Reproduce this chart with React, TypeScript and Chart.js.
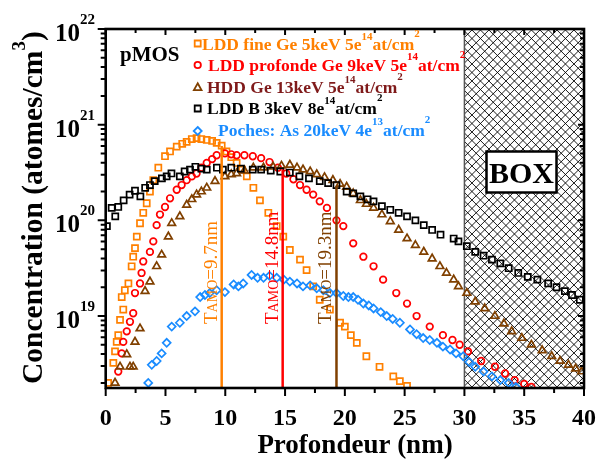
import { useEffect, useRef } from 'react';
import { Chart, registerables } from 'chart.js';

Chart.register(...registerables);

const SERIF = '"Liberation Serif", "Times New Roman", serif';

// ---- data (depth in nm, concentration in atoms/cm3) ----
const fineX = [0.2, 0.64, 0.78, 0.92, 1.05, 1.2, 1.34, 1.47, 1.6, 1.9, 2.17, 2.3, 2.45, 2.6, 2.87, 3.14, 3.43, 3.7, 3.98, 4.4, 4.96, 5.38, 5.94, 6.4, 6.77, 7.2, 7.6, 8.0, 8.45, 8.9, 9.28, 9.7, 10.1, 10.5, 10.95, 11.4, 11.8, 12.35, 12.9, 13.6, 14.3, 14.85, 15.4, 16.25, 16.8, 17.35, 17.9, 18.75, 19.6, 20.0, 20.5, 21.0, 21.8, 22.9, 24.05, 24.6, 25.2];
const fineY = [2.0e18, 3.24e18, 4.27e18, 5.37e18, 6.31e18, 9.12e18, 1.58e19, 1.17e19, 1.86e19, 2.19e19, 3.31e19, 4.17e19, 5.13e19, 6.76e19, 9.33e19, 1.2e20, 1.51e20, 2.0e20, 2.63e20, 3.55e20, 4.68e20, 5.25e20, 5.89e20, 6.31e20, 6.61e20, 7.08e20, 7.24e20, 7.08e20, 6.92e20, 6.76e20, 6.46e20, 6.03e20, 5.25e20, 4.57e20, 3.98e20, 3.39e20, 2.88e20, 2.19e20, 1.62e20, 1.2e20, 8.71e19, 6.76e19, 4.9e19, 3.89e19, 3.02e19, 2.04e19, 1.48e19, 1.17e19, 8.51e18, 7.76e18, 6.31e18, 5.25e18, 3.8e18, 2.95e18, 2.34e18, 2.09e18, 1.86e18];

const profX = [1.05, 1.34, 1.47, 1.76, 2.03, 2.3, 2.45, 2.87, 3.0, 3.14, 3.7, 3.98, 4.26, 4.54, 4.96, 5.38, 5.94, 6.35, 6.77, 7.2, 7.6, 8.0, 8.45, 8.9, 9.28, 9.97, 10.5, 10.95, 11.6, 12.3, 13.0, 13.7, 14.4, 15.1, 15.7, 16.25, 16.8, 17.35, 17.9, 18.5, 19.3, 19.87, 20.7, 21.55, 22.4, 23.2, 24.3, 25.2, 26.0, 27.1, 28.2, 29.0, 29.6, 30.3, 31.4, 32.55, 33.4, 34.2, 35.0, 35.6];
const profY = [2.63e18, 4.07e18, 5.37e18, 6.92e18, 8.71e18, 1.07e19, 1.74e19, 2.19e19, 2.82e19, 3.72e19, 4.68e19, 6.03e19, 8.91e19, 1.15e20, 1.38e20, 1.7e20, 2.09e20, 2.34e20, 2.63e20, 2.88e20, 3.09e20, 3.55e20, 3.98e20, 4.37e20, 4.79e20, 5.01e20, 4.9e20, 4.79e20, 4.79e20, 4.68e20, 4.47e20, 4.07e20, 3.55e20, 3.09e20, 2.69e20, 2.34e20, 2.09e20, 1.86e20, 1.58e20, 1.35e20, 1.0e20, 8.71e19, 5.75e19, 4.17e19, 3.31e19, 2.4e19, 1.74e19, 1.35e19, 1.0e19, 7.76e18, 6.31e18, 5.62e18, 5.01e18, 4.27e18, 3.39e18, 2.95e18, 2.51e18, 2.14e18, 1.95e18, 1.82e18];

const hddX = [0.78, 1.2, 1.76, 2.03, 2.3, 2.45, 2.87, 3.29, 3.7, 4.26, 4.68, 5.24, 5.52, 6.2, 6.77, 7.2, 7.6, 8.0, 8.45, 9.14, 9.97, 10.5, 10.95, 11.6, 12.35, 13.2, 14.0, 14.7, 15.4, 16.0, 16.5, 17.1, 17.65, 18.3, 19.0, 19.6, 20.15, 20.7, 21.3, 21.8, 22.4, 23.1, 23.8, 24.5, 25.2, 25.9, 26.6, 27.3, 27.95, 28.5, 29.1, 29.5, 30.2, 30.9, 31.7, 32.55, 33.3, 33.95, 34.8, 35.6, 36.5, 37.3, 38.0, 38.7, 39.3, 39.8];
const hddY = [2.0e18, 2.95e18, 3.98e18, 2.95e18, 2.95e18, 5.37e18, 7.41e18, 1.82e19, 2.29e19, 3.31e19, 4.37e19, 6.76e19, 9.33e19, 1.1e20, 1.45e20, 1.66e20, 1.86e20, 2.0e20, 2.19e20, 2.57e20, 2.88e20, 3.02e20, 3.09e20, 3.31e20, 3.55e20, 3.55e20, 3.63e20, 3.72e20, 3.8e20, 3.55e20, 3.39e20, 3.24e20, 3.02e20, 2.82e20, 2.63e20, 2.4e20, 2.24e20, 1.91e20, 1.62e20, 1.48e20, 1.35e20, 1.15e20, 9.77e19, 7.94e19, 6.46e19, 5.5e19, 4.68e19, 3.98e19, 3.31e19, 2.82e19, 2.4e19, 2.04e19, 1.74e19, 1.41e19, 1.2e19, 1.0e19, 8.32e18, 6.92e18, 5.89e18, 5.01e18, 4.37e18, 3.8e18, 3.39e18, 3.09e18, 2.82e18, 2.63e18];

const boronX = [0.1, 0.5, 0.8, 1.05, 1.5, 2.0, 2.45, 2.9, 3.3, 3.7, 4.1, 4.7, 5.1, 5.5, 6.2, 6.6, 7.05, 7.5, 8.0, 8.45, 9.3, 9.8, 10.5, 11.3, 12.3, 13.0, 13.8, 14.6, 15.4, 16.2, 17.0, 17.9, 18.6, 19.3, 20.15, 20.7, 21.3, 21.9, 22.4, 23.1, 23.8, 24.5, 25.2, 25.9, 26.6, 27.3, 28.0, 29.1, 29.5, 30.2, 30.9, 31.6, 32.3, 33.0, 33.7, 34.5, 35.3, 36.1, 37.0, 37.7, 38.4, 39.0, 39.65];
const boronY = [8.7e19, 1.35e20, 1.1e20, 1.38e20, 1.62e20, 1.86e20, 2.04e20, 1.78e20, 2.19e20, 2.34e20, 2.57e20, 2.75e20, 2.88e20, 3.09e20, 2.88e20, 3.24e20, 3.39e20, 3.63e20, 3.47e20, 3.39e20, 3.55e20, 3.39e20, 3.55e20, 3.47e20, 3.39e20, 3.39e20, 3.31e20, 3.24e20, 3.16e20, 2.88e20, 2.75e20, 2.57e20, 2.45e20, 2.34e20, 2.0e20, 1.91e20, 1.78e20, 1.66e20, 1.58e20, 1.41e20, 1.29e20, 1.2e20, 1.1e20, 1.0e20, 8.91e19, 7.94e19, 7.08e19, 6.46e19, 6.03e19, 5.37e19, 4.68e19, 4.27e19, 3.89e19, 3.55e19, 3.16e19, 2.82e19, 2.57e19, 2.4e19, 2.19e19, 2.0e19, 1.82e19, 1.66e19, 1.48e19];

const pocheX = [3.56, 3.85, 4.26, 4.68, 5.1, 5.52, 6.2, 6.77, 7.47, 7.9, 8.3, 8.7, 9.28, 9.97, 10.7, 11.1, 11.5, 12.2, 12.7, 13.2, 13.7, 14.3, 14.9, 15.4, 16.0, 16.5, 17.1, 17.65, 18.2, 18.75, 19.3, 19.87, 20.3, 20.7, 21.1, 21.55, 22.0, 22.4, 23.0, 23.5, 24.0, 24.6, 25.45, 26.0, 26.55, 27.1, 27.7, 28.2, 28.8, 29.3, 29.9, 30.4, 30.9, 31.6, 32.3, 33.0, 33.7, 34.3];
const pocheY = [2.0e18, 3.09e18, 3.39e18, 4.07e18, 5.25e18, 7.76e18, 8.51e18, 1.0e19, 1.12e19, 1.58e19, 1.66e19, 1.74e19, 1.86e19, 1.78e19, 2.14e19, 2.04e19, 2.19e19, 2.69e19, 2.51e19, 2.51e19, 2.63e19, 2.51e19, 2.4e19, 2.29e19, 2.19e19, 2.04e19, 2.09e19, 1.95e19, 1.86e19, 1.74e19, 1.74e19, 1.62e19, 1.58e19, 1.58e19, 1.48e19, 1.35e19, 1.29e19, 1.2e19, 1.1e19, 1.0e19, 9.33e18, 8.51e18, 7.24e18, 6.46e18, 5.89e18, 5.62e18, 5.25e18, 4.79e18, 4.47e18, 4.07e18, 3.8e18, 3.31e18, 2.95e18, 2.63e18, 2.34e18, 2.14e18, 2.0e18, 1.82e18];

// TAMO markers (amorphous depth) and their top value
const tamoX = [9.7, 14.8, 19.3];
const tamoTop = [6.0e20, 3.4e20, 2.24e20];
const tamoText = ['=9.7nm', '=14.8nm', '=19.3nm'];

const xMin = 0;
const xMax = 40;
const yMin = 1.77e18;
const yMax = 1e22;
const xTickLabels = [0, 5, 10, 15, 20, 25, 30, 35, 40];
const yDecades = [19, 20, 21, 22];
const boxFrom = 30;
const boxTo = 40;

const C_ORANGE = '#FF8000';
const C_RED = '#FF0000';
const C_BROWN = '#804000';
const C_HDDTXT = '#7F1A1A';
const C_BLACK = '#000000';
const C_BLUE = '#1A8CFF';

const pts = (xs: number[], ys: number[]) => xs.map((x, i) => ({ x, y: ys[i] }));

type Run = [string, number, number, string?]; // text, fontsize, raise, color

function drawRuns(ctx: CanvasRenderingContext2D, x: number, y: number, runs: Run[], color: string) {
  let cx = x;
  for (const [t, size, raise, col] of runs) {
    ctx.font = `bold ${size}px ${SERIF}`;
    ctx.fillStyle = col || color;
    ctx.fillText(t, cx, y - raise);
    cx += ctx.measureText(t).width;
  }
  return cx;
}

function marker(ctx: CanvasRenderingContext2D, style: string, x: number, y: number, color: string) {
  ctx.save();
  ctx.strokeStyle = color;
  ctx.lineWidth = 1.8;
  ctx.beginPath();
  if (style === 'rect') {
    ctx.rect(x - 3, y - 3, 6, 6);
  } else if (style === 'circle') {
    ctx.arc(x, y, 3.2, 0, Math.PI * 2);
  } else if (style === 'triangle') {
    ctx.moveTo(x, y - 4.2);
    ctx.lineTo(x + 3.8, y + 2.6);
    ctx.lineTo(x - 3.8, y + 2.6);
    ctx.closePath();
  } else {
    ctx.moveTo(x, y - 4);
    ctx.lineTo(x + 4, y);
    ctx.lineTo(x, y + 4);
    ctx.lineTo(x - 4, y);
    ctx.closePath();
  }
  ctx.stroke();
  ctx.restore();
}

const boxPlugin = {
  id: 'boxHatch',
  beforeDatasetsDraw(chart: any) {
    const { ctx, chartArea: a, scales } = chart;
    const x0 = scales.x.getPixelForValue(boxFrom);
    const x1 = scales.x.getPixelForValue(boxTo);
    const h = a.bottom - a.top;
    ctx.save();
    ctx.beginPath();
    ctx.rect(x0, a.top, x1 - x0, h);
    ctx.clip();
    ctx.strokeStyle = '#000';
    ctx.lineWidth = 0.9;
    ctx.beginPath();
    const sp = 8.5;
    for (let s = x0 - h; s < x1 + h; s += sp) {
      ctx.moveTo(s, a.top);
      ctx.lineTo(s + h, a.bottom);
      ctx.moveTo(s, a.bottom);
      ctx.lineTo(s + h, a.top);
    }
    ctx.stroke();
    ctx.restore();
    ctx.save();
    ctx.strokeStyle = '#555';
    ctx.lineWidth = 1.5;
    ctx.beginPath();
    ctx.moveTo(x0, a.top);
    ctx.lineTo(x0, a.bottom);
    ctx.stroke();
    // BOX label
    const bx = 486.5, by = 151.5, bw = 70, bh = 41;
    ctx.fillStyle = '#fff';
    ctx.fillRect(bx, by, bw, bh);
    ctx.strokeStyle = '#000';
    ctx.lineWidth = 2.5;
    ctx.strokeRect(bx, by, bw, bh);
    ctx.fillStyle = '#000';
    ctx.font = `bold 30px ${SERIF}`;
    ctx.textAlign = 'center';
    ctx.textBaseline = 'alphabetic';
    ctx.fillText('BOX', bx + bw / 2, by + 31);
    ctx.restore();
  },
};

const framePlugin = {
  id: 'frameText',
  afterDraw(chart: any) {
    const { ctx, chartArea: a, scales } = chart;
    const xs = scales.x;
    const ys = scales.y;
    ctx.save();
    ctx.lineCap = 'butt';
    // ticks
    ctx.strokeStyle = '#000';
    ctx.lineWidth = 2;
    ctx.beginPath();
    for (let v = xMin; v <= xMax + 1e-9; v += 2.5) {
      const px = xs.getPixelForValue(v);
      const major = Math.abs(v / 5 - Math.round(v / 5)) < 1e-6;
      const L = major ? 8 : 5;
      ctx.moveTo(px, a.bottom);
      ctx.lineTo(px, a.bottom + L);
      ctx.moveTo(px, a.top);
      ctx.lineTo(px, a.top + (major ? 6 : 4));
    }
    for (let e = 18; e <= 21; e++) {
      for (let m = 1; m <= 9; m++) {
        const v = m * Math.pow(10, e);
        if (v < yMin || v > yMax) continue;
        const py = ys.getPixelForValue(v);
        const L = m === 1 ? 8 : 5;
        ctx.moveTo(a.left, py);
        ctx.lineTo(a.left - L, py);
        ctx.moveTo(a.right, py);
        ctx.lineTo(a.right - (m === 1 ? 6 : 4), py);
      }
    }
    const pTop = ys.getPixelForValue(yMax);
    ctx.moveTo(a.left, pTop);
    ctx.lineTo(a.left - 8, pTop);
    ctx.moveTo(a.right, pTop);
    ctx.lineTo(a.right - 6, pTop);
    ctx.stroke();
    // frame
    ctx.lineWidth = 2.6;
    ctx.strokeRect(a.left, a.top, a.right - a.left, a.bottom - a.top);

    // x tick labels
    ctx.fillStyle = '#000';
    ctx.font = `bold 24px ${SERIF}`;
    ctx.textAlign = 'center';
    ctx.textBaseline = 'alphabetic';
    for (const v of xTickLabels) {
      ctx.fillText(String(v), xs.getPixelForValue(v), 425);
    }
    // y tick labels 10^n
    ctx.textAlign = 'left';
    for (const d of yDecades) {
      const py = ys.getPixelForValue(Math.pow(10, d));
      ctx.font = `bold 25px ${SERIF}`;
      const w1 = ctx.measureText('10').width;
      ctx.font = `bold 15px ${SERIF}`;
      const w2 = ctx.measureText(String(d)).width;
      const sx = 95 - w1 - w2;
      drawRuns(ctx, sx, py + 12, [['10', 25, 0], [String(d), 15, 17]], '#000');
    }
    // x title
    ctx.textAlign = 'center';
    ctx.font = `bold 27px ${SERIF}`;
    ctx.fillText('Profondeur (nm)', 355, 453);
    // y title
    ctx.save();
    ctx.translate(42, 384);
    ctx.rotate(-Math.PI / 2);
    ctx.textAlign = 'left';
    drawRuns(ctx, 0, 0, [['Concentration (atomes/cm', 29.5, 0], ['3', 19, 17], [')', 29.5, 0]], '#000');
    ctx.restore();

    // pMOS
    ctx.textAlign = 'left';
    ctx.font = `bold 21px ${SERIF}`;
    ctx.fillStyle = '#000';
    ctx.fillText('pMOS', 120, 61);

    // legend
    const rows: { style: string; mc: string; my: number; tx: number; ty: number; color: string; runs: Run[] }[] = [
      { style: 'rect', mc: C_ORANGE, my: 43.5, tx: 202, ty: 50, color: C_ORANGE, runs: [['LDD fine Ge 5keV 5e', 17.5, 0], ['14', 11, 10.5], ['at/cm', 17.5, 0], ['2', 11, 13]] },
      { style: 'circle', mc: C_RED, my: 65, tx: 208, ty: 70.5, color: C_RED, runs: [['LDD profonde Ge 9keV 5e', 17.5, 0], ['14', 11, 10.5], ['at/cm', 17.5, 0], ['2', 11, 13]] },
      { style: 'triangle', mc: C_BROWN, my: 87.5, tx: 207, ty: 93, color: C_HDDTXT, runs: [['HDD Ge 13keV 5e', 17.5, 0], ['14', 11, 10.5], ['at/cm', 17.5, 0], ['2', 11, 13]] },
      { style: 'rect', mc: C_BLACK, my: 108.5, tx: 207, ty: 114, color: C_BLACK, runs: [['LDD B 3keV 8e', 17.5, 0], ['14', 11, 10.5], ['at/cm', 17.5, 0], ['2', 11, 13]] },
      { style: 'rectRot', mc: C_BLUE, my: 131, tx: 218, ty: 135.5, color: C_BLUE, runs: [['Poches: As 20keV 4e', 17.5, 0], ['13', 11, 10.5], ['at/cm', 17.5, 0], ['2', 11, 13]] },
    ];
    for (const r of rows) {
      marker(ctx, r.style, 197.7, r.my, r.mc);
      drawRuns(ctx, r.tx, r.ty, r.runs, r.color);
    }

    // TAMO labels along vertical lines
    const tamoColors = [C_ORANGE, C_RED, C_BROWN];
    tamoX.forEach((tx, i) => {
      const px = xs.getPixelForValue(tx);
      ctx.save();
      ctx.translate(px - 5, 324);
      ctx.rotate(-Math.PI / 2);
      let cx = 0;
      ctx.fillStyle = tamoColors[i];
      ctx.font = `19px ${SERIF}`;
      ctx.fillText('T', cx, 0);
      cx += ctx.measureText('T').width;
      ctx.font = `14px ${SERIF}`;
      ctx.fillText('AMO', cx, 0);
      cx += ctx.measureText('AMO').width;
      ctx.font = `19px ${SERIF}`;
      ctx.fillText(tamoText[i], cx, 0);
      ctx.restore();
    });
    ctx.restore();
  },
};

export default function App() {
  const ref = useRef<HTMLCanvasElement | null>(null);
  useEffect(() => {
    if (!ref.current) return;
    const markerBase = { showLine: false, borderWidth: 1.7, backgroundColor: 'rgba(0,0,0,0)' };
    const tamoColors = [C_ORANGE, C_RED, C_BROWN];
    const tamoSets = tamoX.map((tx, i) => ({
      type: 'line' as const,
      data: [{ x: tx, y: yMin }, { x: tx, y: tamoTop[i] }],
      borderColor: tamoColors[i],
      borderWidth: 2.5,
      pointRadius: 0,
      showLine: true,
      order: 0,
    }));
    const chart = new Chart(ref.current, {
      type: 'scatter',
      data: {
        datasets: [
          { ...markerBase, label: 'LDD fine', data: pts(fineX, fineY), borderColor: C_ORANGE, pointStyle: 'rect', pointRadius: 4.3, order: 5 },
          { ...markerBase, label: 'LDD profonde', data: pts(profX, profY), borderColor: C_RED, pointStyle: 'circle', pointRadius: 3.3, order: 4 },
          { ...markerBase, label: 'HDD', data: pts(hddX, hddY), borderColor: C_BROWN, pointStyle: 'triangle', pointRadius: 4.4, order: 3 },
          { ...markerBase, label: 'LDD B', data: pts(boronX, boronY), borderColor: C_BLACK, pointStyle: 'rect', pointRadius: 4.3, order: 2 },
          { ...markerBase, label: 'Poches', data: pts(pocheX, pocheY), borderColor: C_BLUE, pointStyle: 'rectRot', pointRadius: 4, order: 1 },
          ...tamoSets,
        ] as any,
      },
      options: {
        animation: false,
        responsive: false,
        devicePixelRatio: 1,
        layout: { padding: { left: 105.7, right: 12, top: 29, bottom: 72 } },
        plugins: { legend: { display: false }, tooltip: { enabled: false } },
        scales: {
          x: { type: 'linear', min: xMin, max: xMax, display: false },
          y: { type: 'logarithmic', min: yMin, max: yMax, display: false },
        },
      },
      plugins: [boxPlugin, framePlugin],
    });
    return () => chart.destroy();
  }, []);
  return (
    <div style={{ position: 'fixed', left: 0, top: 0, width: 596, height: 460, background: '#fff' }}>
      <canvas ref={ref} width={596} height={460} style={{ display: 'block' }} />
    </div>
  );
}
